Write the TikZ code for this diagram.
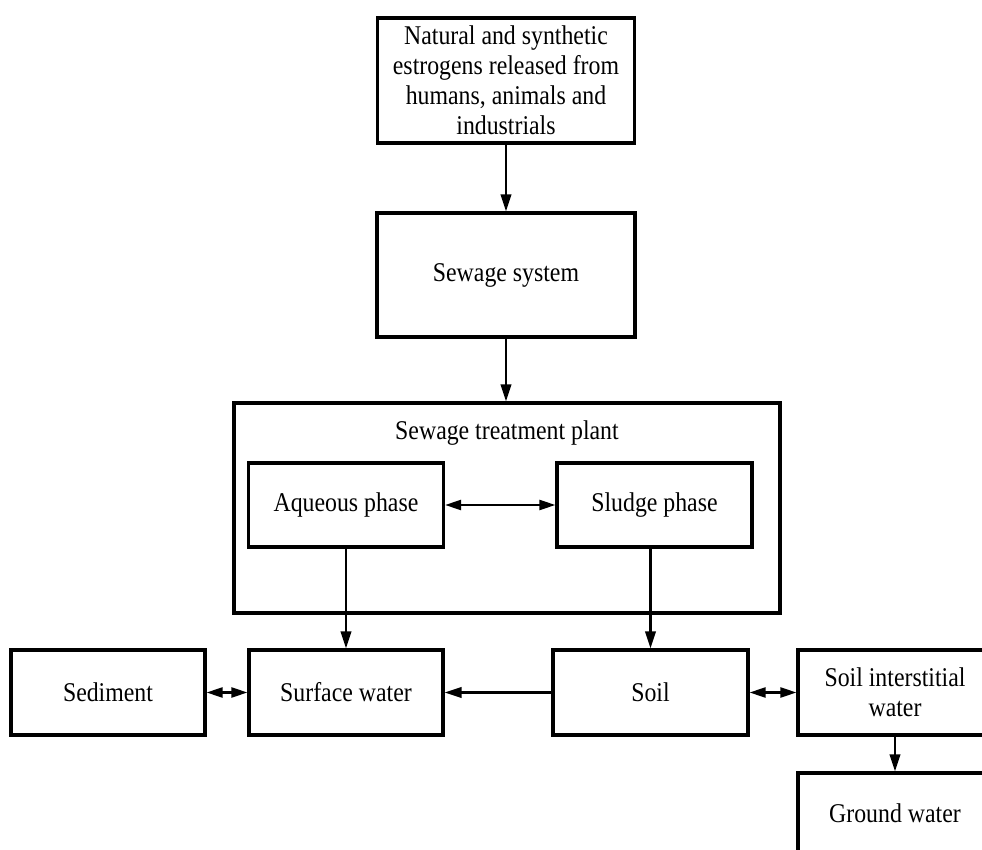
\documentclass[tikz,border=0pt]{standalone}
\usepackage{fontspec}
\setmainfont{Liberation Serif}[FakeStretch=0.88]
\usetikzlibrary{arrows.meta}
\tikzset{
	box/.style={draw, line width=1.8pt, align=center, inner sep=0pt, font=\fontsize{15.4}{17}\selectfont},
	flow/.style={line width=1.2pt, -{Triangle[length=3.4mm,width=2.1mm]}},
	both/.style={line width=1.2pt, {Triangle[length=3.2mm,width=2mm]}-{Triangle[length=3.2mm,width=2mm]}}
}

\begin{document}
\begin{tikzpicture}[x=0.2mm, y=-0.2mm]
			\useasboundingbox (0,0) rectangle (982,850);
			% top of the chain
			\node[box, minimum width=51.4mm, minimum height=25mm] (source) at (506,80.5) {Natural and synthetic\\estrogens released from\\humans, animals and\\industrials};
			\node[box, minimum width=51.6mm, minimum height=24.8mm] (sewer) at (506,275) {Sewage system};
			% treatment plant
			\node[box, minimum width=109.2mm, minimum height=42mm] (stp) at (507,508) {};
			\node[font=\fontsize{15.4}{17}\selectfont] (stplabel) at (507,433) {Sewage treatment plant};
			\node[box, minimum width=39mm, minimum height=16.8mm] (aqueous) at (346,505) {Aqueous phase};
			\node[box, minimum width=39mm, minimum height=16.8mm] (sludge) at (654.5,505) {Sludge phase};
			% receiving compartments
			\node[box, minimum width=38.8mm, minimum height=17mm] (sediment) at (108,692.5) {Sediment};
			\node[box, minimum width=38.8mm, minimum height=17mm] (surface) at (346,692.5) {Surface water};
			\node[box, minimum width=39mm, minimum height=17mm] (soil) at (650.5,692.5) {Soil};
			\node[box, minimum width=38.8mm, minimum height=17mm] (interstitial) at (895,692.5) {Soil interstitial\\water};
			\node[box, minimum width=38.8mm, minimum height=16mm] (ground) at (895,813) {Ground water};
			% connectors
			\draw[flow] (source) -- (sewer);
			\draw[flow] (sewer.south) -- (sewer.south |- stp.north);
			\draw[both] (aqueous) -- (sludge);
			\draw[flow] (aqueous) -- (surface);
			\draw[flow] (sludge.south -| soil) -- (soil);
			\draw[both] (sediment) -- (surface);
			\draw[flow] (soil) -- (surface);
			\draw[both] (soil) -- (interstitial);
			\draw[flow] (interstitial) -- (ground);
			\end{tikzpicture}
\end{document}
